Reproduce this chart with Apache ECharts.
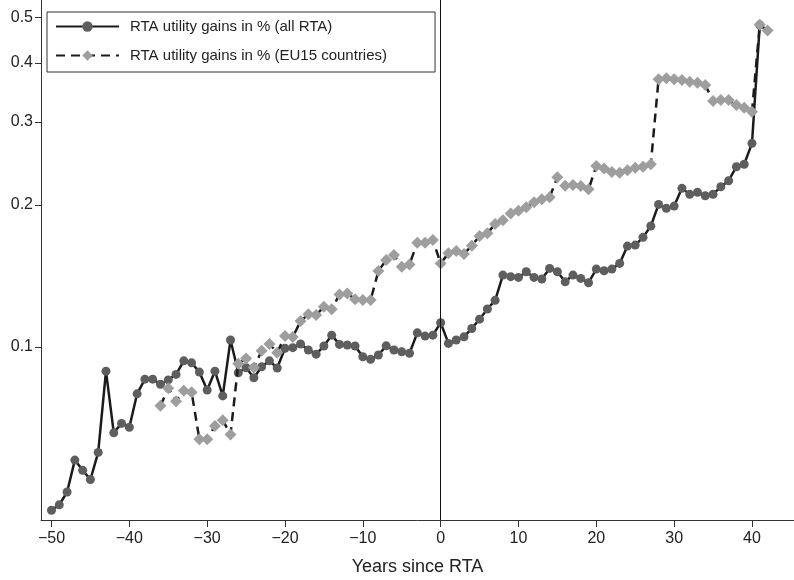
<!DOCTYPE html>
<html>
<head>
<meta charset="utf-8">
<script src="https://cdn.jsdelivr.net/npm/echarts@6/dist/echarts.min.js"></script>
<style>html,body{margin:0;padding:0;background:#fff}#c{width:794px;height:580px}</style>
</head>
<body>
<div id="c"></div>
<script>
var yearsAll = [-50,-49,-48,-47,-46,-45,-44,-43,-42,-41,-40,-39,-38,-37,-36,-35,-34,-33,-32,-31,-30,-29,-28,-27,-26,-25,-24,-23,-22,-21,-20,-19,-18,-17,-16,-15,-14,-13,-12,-11,-10,-9,-8,-7,-6,-5,-4,-3,-2,-1,0,1,2,3,4,5,6,7,8,9,10,11,12,13,14,15,16,17,18,19,20,21,22,23,24,25,26,27,28,29,30,31,32,33,34,35,36,37,38,39,40,41];
var gainsAll = [0.0451,0.0463,0.0493,0.0576,0.0548,0.0524,0.0598,0.0889,0.0658,0.0689,0.0676,0.0796,0.0855,0.0855,0.0834,0.0852,0.0875,0.0935,0.0926,0.0885,0.0811,0.0889,0.0788,0.1035,0.0882,0.0904,0.0861,0.0908,0.0935,0.0903,0.0994,0.0997,0.1015,0.0986,0.0966,0.1005,0.1060,0.1013,0.1010,0.1005,0.0954,0.0942,0.0962,0.1006,0.0986,0.0977,0.0970,0.1072,0.1055,0.1060,0.1126,0.1018,0.1035,0.1051,0.1095,0.1146,0.1204,0.1256,0.1421,0.1410,0.1405,0.1444,0.1405,0.1394,0.1468,0.1444,0.1375,0.1421,0.1398,0.1369,0.1463,0.1451,0.1463,0.1504,0.1637,0.1645,0.1708,0.1805,0.2006,0.1968,0.1990,0.2170,0.2107,0.2128,0.2093,0.2107,0.2187,0.2252,0.2411,0.2440,0.2703,0.4815];
var yearsEU = [-36,-35,-34,-33,-32,-31,-30,-29,-28,-27,-26,-25,-24,-23,-22,-21,-20,-19,-18,-17,-16,-15,-14,-13,-12,-11,-10,-9,-8,-7,-6,-5,-4,-3,-2,-1,0,1,2,3,4,5,6,7,8,9,10,11,12,13,14,15,16,17,18,19,20,21,22,23,24,25,26,27,28,29,30,31,32,33,34,35,36,37,38,39,40,41,42];
var gainsEU = [0.0751,0.0818,0.0768,0.0808,0.0802,0.0638,0.0638,0.0680,0.0700,0.0653,0.0922,0.0946,0.0905,0.0982,0.1015,0.0973,0.1055,0.1050,0.1135,0.1173,0.1169,0.1217,0.1202,0.1293,0.1299,0.1263,0.1258,0.1258,0.1449,0.1529,0.1567,0.1480,0.1497,0.1664,0.1664,0.1686,0.1504,0.1580,0.1598,0.1575,0.1640,0.1719,0.1742,0.1823,0.1858,0.1920,0.1945,0.1978,0.2027,0.2057,0.2077,0.2290,0.2198,0.2205,0.2195,0.2159,0.2419,0.2390,0.2350,0.2340,0.2370,0.2400,0.2411,0.2440,0.3694,0.3712,0.3694,0.3681,0.3651,0.3633,0.3593,0.3322,0.3338,0.3338,0.3258,0.3216,0.3153,0.4820,0.4685];
var xTicks = [-50,-40,-30,-20,-10,0,10,20,30,40];
var yTicks = [0.1,0.2,0.3,0.4,0.5];
var seriesNames = ['RTA utility gains in % (all RTA)', 'RTA utility gains in % (EU15 countries)'];

function pairs(xs, ys){ return xs.map(function(x,i){ return [x, ys[i]]; }); }

var chart = echarts.init(document.getElementById('c'), null, {renderer:'canvas'});
var font = 'Liberation Sans, Arial, Helvetica, sans-serif';
chart.setOption({
  animation: false,
  backgroundColor: '#fff',
  textStyle: {fontFamily: font},
  grid: {left: 41, right: 0, top: 0, bottom: 60, containLabel: false, outerBoundsMode: 'none'},
  legend: {
    orient: 'vertical', left: 47, top: 12,
    padding: [7, 48, 9, 8], itemGap: 14,
    itemWidth: 63, itemHeight: 13,
    borderColor: '#333', borderWidth: 1,
    textStyle: {fontFamily: font, fontSize: 15, color: '#222', padding: [0,0,0,6]},
    data: seriesNames
  },
  xAxis: {
    type: 'value', min: -51.35, max: 45.4,
    name: 'Years since RTA', nameLocation: 'middle', nameGap: 38,
    nameTextStyle: {fontFamily: font, fontSize: 18, color: '#222'},
    axisLine: {lineStyle: {color: '#333', width: 1}},
    axisTick: {customValues: xTicks, length: 7, lineStyle: {color: '#333'}},
    axisLabel: {customValues: xTicks, fontSize: 16, color: '#222', margin: 11,
      formatter: function(v){ return String(v).replace('-', '\u2212'); }},
    splitLine: {show: false}
  },
  yAxis: {
    type: 'log', logBase: 10, min: 0.043, max: 0.544,
    axisLine: {show: true, onZero: false, lineStyle: {color: '#333', width: 1}},
    axisTick: {show: true, customValues: yTicks, length: 6, lineStyle: {color: '#333'}},
    axisLabel: {customValues: yTicks, fontSize: 16, color: '#222', margin: 8,
      formatter: function(v){ return String(+v.toFixed(2)); }},
    splitLine: {show: false}
  },
  series: [
    {
      name: seriesNames[0], type: 'line', data: pairs(yearsAll, gainsAll),
      symbol: 'circle', symbolSize: 9, showAllSymbol: true,
      lineStyle: {color: '#1b1b1b', width: 2.5},
      itemStyle: {color: '#5e5e5e', borderWidth: 0},
      z: 2,
      markLine: {
        silent: true, symbol: 'none', label: {show: false},
        lineStyle: {color: '#111', width: 1, type: 'solid'},
        data: [{xAxis: 0}]
      }
    },
    {
      name: seriesNames[1], type: 'line', data: pairs(yearsEU, gainsEU),
      symbol: 'diamond', symbolSize: 12, showAllSymbol: true,
      lineStyle: {color: '#1b1b1b', width: 2.5, type: [9, 6]},
      itemStyle: {color: '#9e9e9e', borderWidth: 0},
      z: 3
    }
  ]
});
</script>
</body>
</html>
